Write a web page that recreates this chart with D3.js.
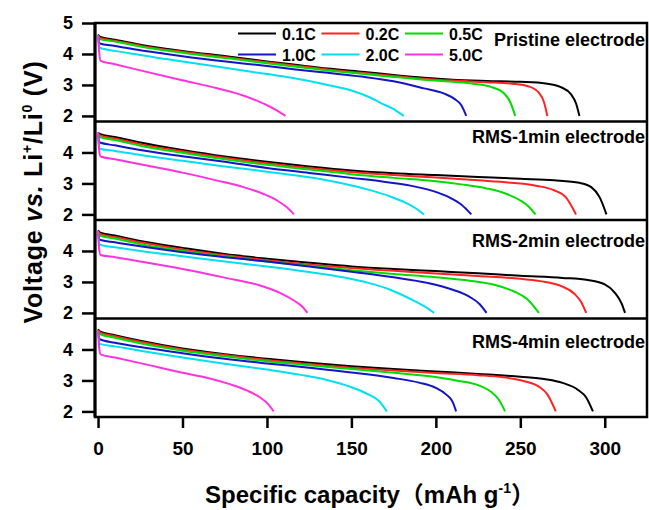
<!DOCTYPE html>
<html>
<head>
<meta charset="utf-8">
<script src="https://cdn.jsdelivr.net/npm/d3@7"></script>
<style>
  html, body { margin: 0; padding: 0; background: #fff; }
  text { font-family: "Liberation Sans", Arial, Helvetica, "Noto Sans CJK SC", sans-serif; font-weight: bold; fill: #000; }
</style>
</head>
<body>
<div id="chart"></div>
<script>
// ---------------------------------------------------------------
// data: [capacity (mAh/g), voltage (V)]

let panelNames = ["Pristine electrode", "RMS-1min electrode", "RMS-2min electrode", "RMS-4min electrode"];
let rates = ["0.1C", "0.2C", "0.5C", "1.0C", "2.0C", "5.0C"];
let xTicks = [0, 50, 100, 150, 200, 250, 300];
let yTicksTop = [2, 3, 4, 5];
let yTicksOther = [2, 3, 4];

let pristine = [
  [[0,4.63],[1,4.56],[10,4.46],[25,4.30],[50,4.10],[77,3.92],[100,3.76],[117,3.65],[136,3.53],[156,3.43],[175,3.32],[193,3.23],[210,3.17],[230,3.13],[250,3.10],[265,3.05],[274,2.93],[280,2.70],[283,2.40],[285,2.0]],
  [[0,4.60],[1,4.52],[10,4.43],[25,4.27],[50,4.07],[77,3.89],[100,3.73],[117,3.62],[136,3.50],[156,3.39],[175,3.29],[193,3.20],[210,3.14],[230,3.09],[245,3.04],[255,2.95],[261,2.75],[264,2.45],[266,2.0]],
  [[0,4.60],[1,4.48],[10,4.40],[25,4.24],[50,4.04],[77,3.86],[100,3.70],[117,3.59],[136,3.47],[156,3.36],[175,3.26],[193,3.17],[210,3.10],[222,3.04],[233,2.93],[240,2.75],[244,2.45],[247,2.0]],
  [[0,4.55],[1,4.34],[10,4.26],[25,4.12],[38,4.02],[50,3.93],[77,3.75],[100,3.61],[117,3.50],[136,3.39],[156,3.27],[175,3.12],[193,2.89],[205,2.72],[211,2.55],[215,2.35],[218,2.0]],
  [[0,4.50],[1,4.20],[10,4.10],[25,3.97],[37,3.86],[50,3.76],[77,3.54],[100,3.35],[117,3.21],[136,3.00],[150,2.82],[160,2.62],[168,2.40],[175,2.22],[181,2.0]],
  [[0,4.60],[0.6,4.10],[1.5,3.78],[10,3.67],[25,3.47],[50,3.15],[70,2.90],[80,2.76],[88,2.62],[95,2.47],[101,2.32],[106,2.17],[111,2.0]]
];

let rms1 = [
  [[0,4.65],[1,4.60],[10,4.50],[25,4.32],[50,4.08],[75,3.87],[100,3.70],[125,3.55],[150,3.42],[175,3.33],[200,3.27],[225,3.21],[250,3.15],[270,3.10],[285,3.02],[292,2.88],[297,2.55],[301,2.0]],
  [[0,4.62],[1,4.55],[10,4.45],[25,4.27],[50,4.04],[75,3.83],[100,3.65],[125,3.50],[150,3.37],[175,3.27],[200,3.19],[225,3.10],[245,3.02],[260,2.92],[270,2.78],[277,2.55],[283,2.0]],
  [[0,4.60],[1,4.50],[10,4.40],[25,4.22],[50,3.99],[75,3.78],[100,3.60],[125,3.45],[150,3.30],[175,3.18],[200,3.07],[215,2.97],[230,2.84],[242,2.66],[250,2.45],[255,2.25],[259,2.0]],
  [[0,4.55],[1,4.32],[10,4.23],[25,4.08],[50,3.88],[75,3.70],[100,3.50],[125,3.34],[150,3.18],[170,3.05],[185,2.93],[198,2.76],[208,2.55],[215,2.32],[221,2.0]],
  [[0,4.50],[1,4.12],[10,4.05],[25,3.92],[50,3.73],[75,3.55],[100,3.38],[125,3.20],[145,3.00],[160,2.80],[172,2.60],[182,2.38],[188,2.20],[193,2.0]],
  [[0,4.65],[0.6,4.10],[1.5,3.87],[10,3.78],[25,3.62],[50,3.35],[70,3.10],[85,2.90],[98,2.66],[106,2.45],[112,2.22],[116,2.0]]
];

let rms2 = [
  [[0,4.67],[1,4.60],[10,4.50],[25,4.32],[50,4.10],[75,3.90],[100,3.75],[125,3.62],[150,3.50],[175,3.42],[200,3.35],[225,3.28],[250,3.20],[275,3.13],[290,3.06],[300,2.92],[306,2.65],[310,2.30],[312,2.0]],
  [[0,4.63],[1,4.55],[10,4.45],[25,4.28],[50,4.05],[75,3.86],[100,3.70],[125,3.56],[150,3.45],[175,3.36],[200,3.27],[225,3.19],[250,3.10],[265,3.00],[275,2.85],[282,2.62],[286,2.35],[289,2.0]],
  [[0,4.60],[1,4.50],[10,4.40],[25,4.22],[50,4.00],[75,3.82],[100,3.66],[125,3.52],[150,3.38],[175,3.26],[200,3.15],[220,3.04],[235,2.90],[246,2.70],[254,2.45],[261,2.0]],
  [[0,4.55],[1,4.36],[10,4.28],[25,4.15],[50,3.96],[75,3.80],[100,3.66],[125,3.50],[150,3.33],[175,3.15],[195,2.97],[210,2.75],[220,2.52],[226,2.28],[230,2.0]],
  [[0,4.50],[1,4.20],[10,4.12],[25,4.00],[50,3.83],[75,3.66],[100,3.50],[125,3.32],[145,3.15],[160,2.97],[173,2.75],[185,2.45],[192,2.25],[199,2.0]],
  [[0,4.65],[0.6,4.10],[1.5,3.87],[10,3.80],[25,3.66],[50,3.42],[75,3.14],[95,2.90],[108,2.64],[116,2.40],[121,2.20],[124,2.0]]
];

let rms4 = [
  [[0,4.65],[1,4.58],[10,4.46],[25,4.28],[50,4.03],[75,3.85],[100,3.70],[125,3.57],[150,3.46],[175,3.37],[200,3.29],[225,3.21],[250,3.12],[265,3.04],[275,2.92],[284,2.70],[289,2.45],[293,2.0]],
  [[0,4.62],[1,4.55],[10,4.43],[25,4.25],[50,4.00],[75,3.82],[100,3.66],[125,3.53],[150,3.41],[175,3.32],[200,3.24],[225,3.17],[240,3.10],[252,2.98],[261,2.80],[266,2.55],[271,2.0]],
  [[0,4.60],[1,4.50],[10,4.38],[25,4.20],[50,3.96],[75,3.78],[100,3.62],[125,3.49],[150,3.37],[175,3.25],[195,3.14],[212,3.00],[225,2.85],[233,2.62],[237,2.40],[241,2.0]],
  [[0,4.55],[1,4.33],[10,4.22],[25,4.08],[50,3.88],[75,3.70],[100,3.55],[125,3.41],[150,3.26],[175,3.08],[190,2.93],[200,2.76],[206,2.55],[210,2.30],[212,2.0]],
  [[0,4.55],[1,4.18],[10,4.10],[25,3.96],[50,3.74],[75,3.54],[100,3.35],[120,3.18],[135,3.02],[150,2.78],[160,2.55],[166,2.35],[171,2.0]],
  [[0,4.60],[0.6,4.10],[1.5,3.84],[10,3.74],[25,3.56],[50,3.25],[65,3.08],[78,2.88],[88,2.68],[96,2.45],[101,2.22],[104,2.0]]
];

let panelData = [pristine, rms1, rms2, rms4];

// ---------------------------------------------------------------
// layout and style

let width = 649, height = 510;
let plotLeft = 95, plotRight = 647, plotTop = 23, plotBottom = 417;
let panelH = (plotBottom - plotTop) / panelNames.length;
let colors = ["#000000", "#ff2323", "#00dd00", "#1414c8", "#00e0f0", "#ff33dd"];
let labelDy = [23, 21, 27, 29];

let svg = d3.select("#chart").append("svg")
  .attr("width", width).attr("height", height);

let xScale = d3.scaleLinear().domain([-1.8, 325]).range([plotLeft, plotRight]);

let makeLine = function(y) {
  return d3.line()
    .x(function(d) { return xScale(d[0]); })
    .y(function(d) { return y(d[1]); })
    .curve(d3.curveMonotoneX);
};

panelData.forEach(function(curves, p) {
  let y0 = plotTop + p * panelH;
  let yScale = d3.scaleLinear().domain([1.82, 5]).range([y0 + panelH, y0]);

  let g = svg.append("g");

  g.selectAll(".curve")
    .data(curves)
    .enter()
    .append("path")
    .attr("class", "curve")
    .attr("d", makeLine(yScale))
    .attr("fill", "none")
    .attr("stroke", function(d, i) { return colors[i]; })
    .attr("stroke-width", 2);

  // y axis for this panel
  let yAxis = d3.axisLeft(yScale)
    .tickValues(p === 0 ? yTicksTop : yTicksOther)
    .tickFormat(d3.format("d"))
    .tickSize(13)
    .tickPadding(9);
  let ya = svg.append("g")
    .attr("transform", "translate(" + plotLeft + ",0)")
    .call(yAxis);
  ya.select(".domain").remove();
  ya.selectAll(".tick line").attr("stroke", "#000").attr("stroke-width", 2.5);
  ya.selectAll(".tick text")
    .style("font-size", "18px")
    .style("font-family", "'Liberation Sans', Arial, sans-serif")
    .style("font-weight", "bold");

  // panel name
  svg.append("text")
    .attr("x", 645)
    .attr("y", y0 + labelDy[p])
    .attr("text-anchor", "end")
    .style("font-size", "18px")
    .text(panelNames[p]);

  // divider
  if (p > 0) {
    svg.append("line")
      .attr("x1", plotLeft).attr("x2", plotRight)
      .attr("y1", y0).attr("y2", y0)
      .attr("stroke", "#000").attr("stroke-width", 2.5);
  }
});

// frame
svg.append("rect")
  .attr("x", plotLeft).attr("y", plotTop)
  .attr("width", plotRight - plotLeft).attr("height", plotBottom - plotTop)
  .attr("fill", "none")
  .attr("stroke", "#000")
  .attr("stroke-width", 2.5);
svg.append("line")
  .attr("x1", plotLeft).attr("x2", plotLeft)
  .attr("y1", plotTop).attr("y2", plotBottom)
  .attr("stroke", "#000").attr("stroke-width", 3);

// x axis
let xAxis = d3.axisBottom(xScale)
  .tickValues(xTicks)
  .tickSize(11)
  .tickPadding(14);
let xa = svg.append("g")
  .attr("transform", "translate(0," + plotBottom + ")")
  .call(xAxis);
xa.select(".domain").remove();
xa.selectAll(".tick line").attr("stroke", "#000").attr("stroke-width", 2.5);
xa.selectAll(".tick text")
  .style("font-size", "19px")
  .style("font-family", "'Liberation Sans', Arial, sans-serif")
  .style("font-weight", "bold");

// legend
let legend = svg.append("g");
rates.forEach(function(r, i) {
  let col = i % 3, row = Math.floor(i / 3);
  let lx = 238 + col * 83.5;
  let ly = 33.5 + row * 21;
  legend.append("line")
    .attr("x1", lx).attr("x2", lx + 38)
    .attr("y1", ly).attr("y2", ly)
    .attr("stroke", colors[i]).attr("stroke-width", 2);
  legend.append("text")
    .attr("x", lx + 44)
    .attr("y", ly + 6)
    .style("font-size", "16px")
    .text(r);
});

// x label
let xl = svg.append("text")
  .attr("x", 370)
  .attr("y", 503)
  .attr("text-anchor", "middle")
  .style("font-size", "24px");
xl.append("tspan").text("Specific capacity\uFF08mAh g");
xl.append("tspan").attr("dy", -10).style("font-size", "14px").text("-1");
xl.append("tspan").attr("dy", 10).text("\uFF09");

// y label
let yl = svg.append("text")
  .attr("transform", "translate(42,192) rotate(-90)")
  .attr("text-anchor", "middle")
  .style("font-size", "25px")
  .style("letter-spacing", "0.8px");
yl.append("tspan").text("Voltage ");
yl.append("tspan").style("font-style", "italic").text("vs.");
yl.append("tspan").text(" Li");
yl.append("tspan").attr("dy", -10).style("font-size", "14px").text("+");
yl.append("tspan").attr("dy", 10).text("/Li");
yl.append("tspan").attr("dy", -10).style("font-size", "14px").text("0");
yl.append("tspan").attr("dy", 10).text(" (V)");
</script>
</body>
</html>
